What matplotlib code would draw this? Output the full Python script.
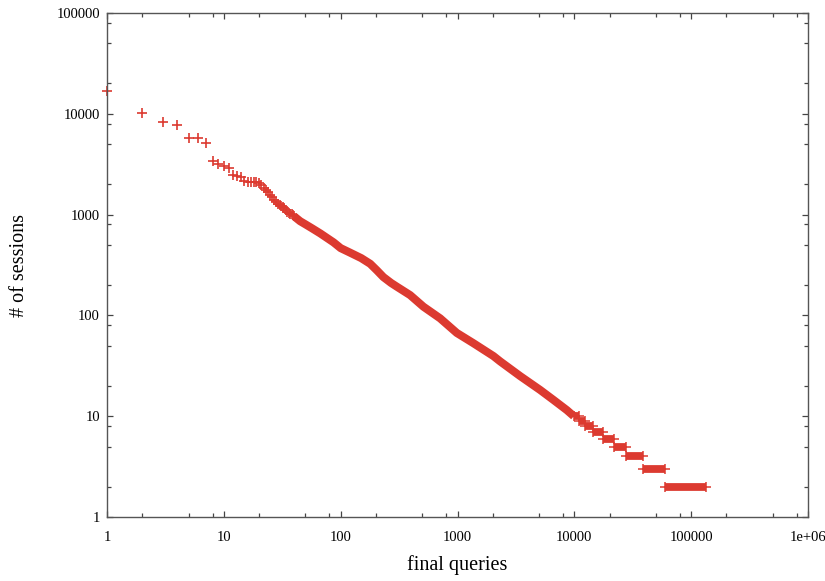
import matplotlib
matplotlib.use("Agg")
import matplotlib.pyplot as plt
from matplotlib.ticker import LogLocator, FixedFormatter, FixedLocator, NullFormatter

# sparse head: one marker per query rank
head_x = [1, 2, 3, 4, 5, 6, 7, 8, 9, 10, 11, 12, 13, 14, 15, 16, 17, 18, 19, 20,
          21, 22, 23, 24, 25, 26, 27, 28, 29, 30, 31, 32, 33, 34, 35, 36, 37, 38, 39, 40]
head_y = [16800, 10100, 8350, 7800, 5800, 5700, 5170, 3430, 3180, 3030, 2880, 2470,
          2415, 2380, 2150, 2120, 2110, 2100, 2095, 2050, 1970, 1830, 1760, 1690,
          1560, 1500, 1400, 1330, 1280, 1245, 1210, 1180, 1155, 1110, 1070, 1040,
          1020, 1005, 990, 960]

# dense body: read along the thick band
body_x = [40, 45, 50, 57, 67, 87, 100, 120, 150, 179, 204, 232, 270, 302, 393, 511, 710,
          986, 1368, 2030, 2316, 3438, 5100, 6630, 8620, 9900]
body_y = [960, 860, 800, 730, 650, 530, 465, 420, 370, 325, 280, 240, 210, 193, 159, 122, 93.5,
          67, 53, 39.5, 35, 25, 18.2, 14.5, 11.5, 10]

# tail: integer counts held over a range of ranks
tail_level = [10, 9, 8, 7, 6, 5, 4, 3, 2]
tail_start = [9900, 11000, 12400, 14500, 17500, 21700, 27700, 38400, 60000]
tail_end = [11000, 12400, 14500, 17500, 21700, 27700, 38400, 60000, 134000]

xticks = [1, 10, 100, 1000, 10000, 100000, 1000000]
xlabels = ["1", "10", "100", "1000", "10000", "100000", "1e+06"]
yticks = [1, 10, 100, 1000, 10000, 100000]
ylabels = ["1", "10", "100", "1000", "10000", "100000"]

red = "#dc3a30"
plt.rcParams["font.family"] = ["Liberation Serif", "DejaVu Serif"]

fig = plt.figure(figsize=(8.25, 5.81), dpi=100)
ax = fig.add_axes([107 / 825, 1 - 517 / 581, 701 / 825, 504 / 581])
ax.set_xscale("log")
ax.set_yscale("log")
ax.set_xlim(1, 1e6)
ax.set_ylim(1, 1e5)

ax.plot(body_x, body_y, color=red, lw=5.8, solid_capstyle="butt", solid_joinstyle="round")
ax.hlines(tail_level, tail_start, tail_end, color=red, lw=5.6)
ax.plot(tail_start + tail_end, tail_level + tail_level, "+", color=red, ms=7, mew=1.1)
ax.plot(head_x, head_y, "+", color=red, ms=7, mew=1.2, clip_on=False)

ax.xaxis.set_major_locator(FixedLocator(xticks))
ax.xaxis.set_major_formatter(FixedFormatter(xlabels))
ax.yaxis.set_major_locator(FixedLocator(yticks))
ax.yaxis.set_major_formatter(FixedFormatter(ylabels))
ax.xaxis.set_minor_locator(LogLocator(base=10, subs=[2, 5, 8], numticks=20))
ax.yaxis.set_minor_locator(LogLocator(base=10, subs=[2, 5, 8], numticks=20))
ax.xaxis.set_minor_formatter(NullFormatter())
ax.yaxis.set_minor_formatter(NullFormatter())

ax.tick_params(which="both", direction="in", top=True, right=True, colors="#444444",
               labelcolor="black", labelsize=10.5)
ax.tick_params(which="major", length=4.5, width=0.9)
ax.tick_params(which="minor", length=3, width=0.9)
ax.tick_params(axis="x", pad=10)
ax.tick_params(axis="y", pad=5)
for s in ax.spines.values():
    s.set_color("#555555")
    s.set_linewidth(1)

ax.set_xlabel("final queries", fontsize=14.5, labelpad=8)
fig.text(20 / 825, 1 - 265 / 581, "# of sessions", rotation=90, fontsize=14.5,
         ha="center", va="center")

fig.savefig("out.png", dpi=100)
